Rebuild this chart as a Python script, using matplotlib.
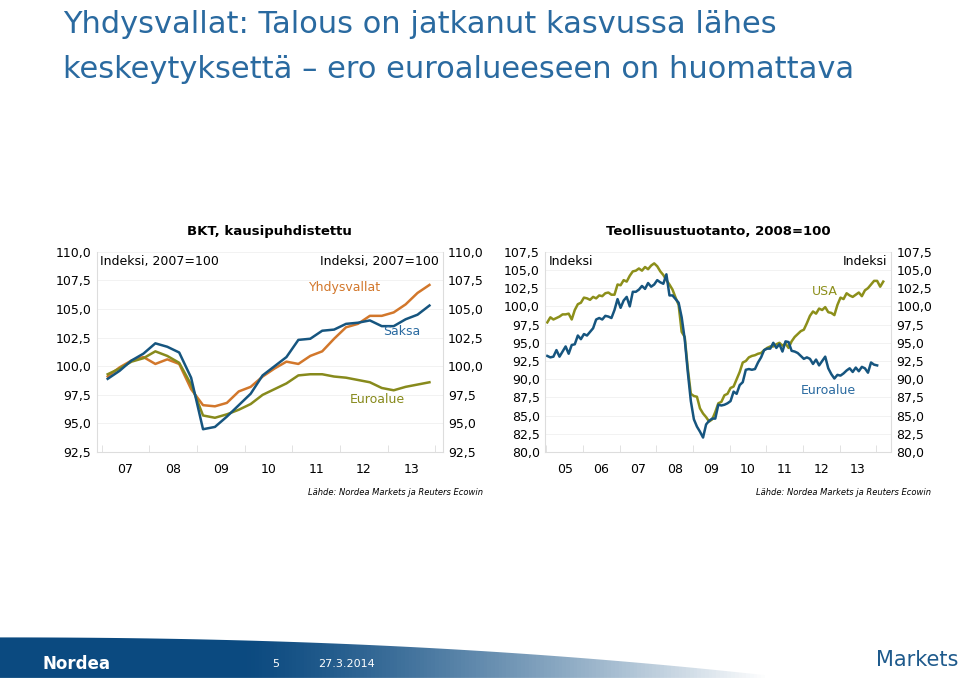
import numpy as np
import matplotlib
matplotlib.use("Agg")
import matplotlib.pyplot as plt
from matplotlib.patches import Polygon

# ---- Data: GDP, quarterly 2007Q1..2013Q4 ----
gdp_saksa = [98.9, 99.6, 100.5, 101.1, 102.0, 101.7, 101.2, 99.0, 94.5, 94.7, 95.6, 96.6, 97.6, 99.2,
             100.0, 100.8, 102.3, 102.4, 103.1, 103.2, 103.7, 103.8, 104.0, 103.5, 103.5, 104.1, 104.5, 105.3]
gdp_usa = [99.1, 99.9, 100.5, 100.8, 100.2, 100.6, 100.2, 98.0, 96.6, 96.5, 96.8, 97.8, 98.2, 99.1,
           99.8, 100.4, 100.2, 100.9, 101.3, 102.4, 103.4, 103.7, 104.4, 104.4, 104.7, 105.4, 106.4, 107.1]
gdp_euro = [99.3, 99.8, 100.4, 100.7, 101.3, 100.9, 100.3, 98.4, 95.7, 95.5, 95.8, 96.2, 96.7, 97.5,
            98.0, 98.5, 99.2, 99.3, 99.3, 99.1, 99.0, 98.8, 98.6, 98.1, 97.9, 98.2, 98.4, 98.6]
gdp_years = ["07", "08", "09", "10", "11", "12", "13"]
gdp_yticks = [92.5, 95.0, 97.5, 100.0, 102.5, 105.0, 107.5, 110.0]

# ---- Data: industrial production, monthly from Jan 2005 ----
ip_usa = [97.8, 98.5, 98.2, 98.4, 98.6, 98.9, 98.9, 99.0, 98.2, 99.5, 100.3, 100.5,
          101.2, 101.1, 100.9, 101.3, 101.1, 101.5, 101.4, 101.8, 101.9, 101.6, 101.6, 103.0,
          102.9, 103.6, 103.4, 104.2, 104.8, 104.9, 105.2, 104.9, 105.4, 105.1, 105.6, 105.9,
          105.5, 104.8, 104.3, 103.6, 103.0, 102.3, 101.2, 100.2, 96.5, 95.8, 91.5, 88.0,
          87.7, 87.6, 86.0, 85.3, 84.8, 84.2, 84.5, 85.5, 86.7, 86.9, 87.8, 88.0,
          88.8, 89.0, 90.0, 91.0, 92.3, 92.5, 93.0, 93.2, 93.3, 93.5, 93.6, 94.0,
          94.3, 94.5, 94.5, 94.8, 95.0, 94.6, 94.9, 94.3, 95.2, 95.8, 96.2, 96.6,
          96.8, 97.7, 98.7, 99.3, 99.0, 99.7, 99.5, 99.9, 99.2, 99.1, 98.8, 100.2,
          101.2, 101.0, 101.8, 101.5, 101.3, 101.6, 101.9, 101.4, 102.2, 102.5, 103.0, 103.5,
          103.5, 102.7, 103.4]
ip_euro = [93.2, 93.0, 93.1, 94.0, 93.1, 93.8, 94.5, 93.5, 94.7, 94.8, 96.0, 95.5,
           96.2, 96.0, 96.5, 97.0, 98.2, 98.4, 98.2, 98.7, 98.6, 98.4, 99.5, 101.0,
           99.8, 100.8, 101.3, 100.0, 102.0, 102.0, 102.3, 102.8, 102.4, 103.2, 102.7, 103.0,
           103.6, 103.3, 103.1, 104.4, 101.5, 101.5, 101.0, 100.5, 98.5, 95.5, 91.0, 87.0,
           84.5, 83.5, 82.8, 82.0, 83.8, 84.3, 84.6, 84.6, 86.5, 86.4, 86.5, 86.7,
           87.0, 88.3, 88.0, 89.2, 89.6, 91.3, 91.4, 91.3, 91.4, 92.3, 93.0, 94.0,
           94.2, 94.2, 95.0, 94.3, 94.8, 93.8, 95.2, 95.1, 93.9, 93.8, 93.6, 93.2,
           92.8, 93.0, 92.8, 92.1, 92.7, 91.9, 92.5, 93.1, 91.5, 90.7, 90.1, 90.6,
           90.5, 90.8, 91.2, 91.5, 91.0, 91.6, 91.1, 91.7, 91.5, 90.9, 92.3, 92.0,
           91.9]
ip_years = ["05", "06", "07", "08", "09", "10", "11", "12", "13"]
ip_yticks = [80.0, 82.5, 85.0, 87.5, 90.0, 92.5, 95.0, 97.5, 100.0, 102.5, 105.0, 107.5]

BLUE = "#16557f"
ORANGE = "#d2772b"
OLIVE = "#878a1c"
OLIVE2 = "#8c8f1a"
TITLEC = "#2a6aa0"

def fmt(v):
    return f"{v:.1f}".replace(".", ",")

fig = plt.figure(figsize=(9.6, 6.84), dpi=100)
fig.patch.set_facecolor("white")

fig.text(0.066, 0.985, "Yhdysvallat: Talous on jatkanut kasvussa lähes", fontsize=22, color=TITLEC, va="top")
fig.text(0.066, 0.920, "keskeytyksettä – ero euroalueeseen on huomattava", fontsize=22, color=TITLEC, va="top")

def style(ax, yt, ylo, yhi, nyears, labels):
    ax.set_ylim(ylo, yhi)
    ax.set_yticks(yt)
    ax.set_yticklabels([fmt(v) for v in yt], fontsize=9)
    ax.tick_params(axis="y", length=0, pad=4, labelright=True, right=False)
    ax.set_xticks([i + 0.5 for i in range(nyears)])
    ax.set_xticklabels(labels, fontsize=9)
    ax.set_xticks(list(range(nyears + 1)), minor=True)
    ax.tick_params(axis="x", which="major", length=0, pad=8)
    ax.tick_params(axis="x", which="minor", length=5, color="#dddddd", direction="in")
    ax.spines["top"].set_visible(False)
    for s in ["left", "right", "bottom"]:
        ax.spines[s].set_color("#dddddd")
    ax.grid(axis="y", color="#f0f0f0", lw=0.6)
    ax.set_axisbelow(True)

# Left chart
ax1 = fig.add_axes([0.101, 0.339, 0.36, 0.293])
xq = (np.arange(len(gdp_saksa)) + 0.5) / 4
ax1.plot(xq, gdp_usa, color=ORANGE, lw=1.8)
ax1.plot(xq, gdp_euro, color=OLIVE, lw=1.8)
ax1.plot(xq, gdp_saksa, color=BLUE, lw=1.8)
ax1.set_xlim(-0.1, 7.15)
style(ax1, gdp_yticks, 92.5, 110.0, 7, gdp_years)
ax1.set_title("BKT, kausipuhdistettu", fontsize=9.5, fontweight="bold", pad=12)
ax1.text(0.01, 0.985, "Indeksi, 2007=100", transform=ax1.transAxes, fontsize=9, va="top")
ax1.text(0.99, 0.985, "Indeksi, 2007=100", transform=ax1.transAxes, fontsize=9, va="top", ha="right")
ax1.text(4.35, 106.6, "Yhdysvallat", color=ORANGE, fontsize=9)
ax1.text(5.9, 102.7, "Saksa", color="#2a6aa0", fontsize=9)
ax1.text(5.2, 96.8, "Euroalue", color=OLIVE, fontsize=9)
fig.text(0.503, 0.277, "Lähde: Nordea Markets ja Reuters Ecowin", fontsize=6, style="italic", ha="right")

# Right chart
ax2 = fig.add_axes([0.568, 0.339, 0.36, 0.293])
xm_u = (np.arange(len(ip_usa)) + 0.3) / 12
xm_e = (np.arange(len(ip_euro)) + 0.3) / 12
ax2.plot(xm_u, ip_usa, color=OLIVE2, lw=1.8)
ax2.plot(xm_e, ip_euro, color=BLUE, lw=1.8)
ax2.set_xlim(-0.03, 9.4)
style(ax2, ip_yticks, 80.0, 107.5, 9, ip_years)
ax2.set_title("Teollisuustuotanto, 2008=100", fontsize=9.5, fontweight="bold", pad=12)
ax2.text(0.01, 0.985, "Indeksi", transform=ax2.transAxes, fontsize=9, va="top")
ax2.text(0.99, 0.985, "Indeksi", transform=ax2.transAxes, fontsize=9, va="top", ha="right")
ax2.text(7.25, 101.6, "USA", color=OLIVE2, fontsize=9)
ax2.text(6.95, 88.0, "Euroalue", color="#2a6aa0", fontsize=9)
fig.text(0.97, 0.277, "Lähde: Nordea Markets ja Reuters Ecowin", fontsize=6, style="italic", ha="right")

# Footer band
axf = fig.add_axes([0, 0, 1, 0.077])
axf.set_xlim(0, 960); axf.set_ylim(0, 52)
axf.axis("off")
grad = np.linspace(0, 1, 256)
cols = np.zeros((1, 256, 3))
c0 = np.array([0x0b, 0x4a, 0x80]) / 255
c1 = np.array([1.0, 1.0, 1.0])
t = np.clip((grad - 0.25) / 0.55, 0, 1) ** 1.3
cols[0] = c0 * (1 - t)[:, None] + c1 * t[:, None]
im = axf.imshow(cols, extent=[0, 960, 0, 52], aspect="auto", zorder=1)
xs = np.linspace(0, 790, 60)
top = 46 - 40 * (xs / 790) ** 2.2
verts = [(0, 6)] + list(zip(xs, top)) + [(790, 6)]
poly = Polygon(verts, closed=True, transform=axf.transData, facecolor="none", edgecolor="none")
axf.add_patch(poly)
im.set_clip_path(poly)
axf.text(42, 20, "Nordea", color="white", fontsize=12, va="center", fontweight="bold")
axf.text(272, 20, "5", color="white", fontsize=8, va="center")
axf.text(318, 20, "27.3.2014", color="white", fontsize=8, va="center")
axf.text(958, 24, "Markets", color="#1e5a8c", fontsize=15, va="center", ha="right")

fig.savefig("out.png", dpi=100)
